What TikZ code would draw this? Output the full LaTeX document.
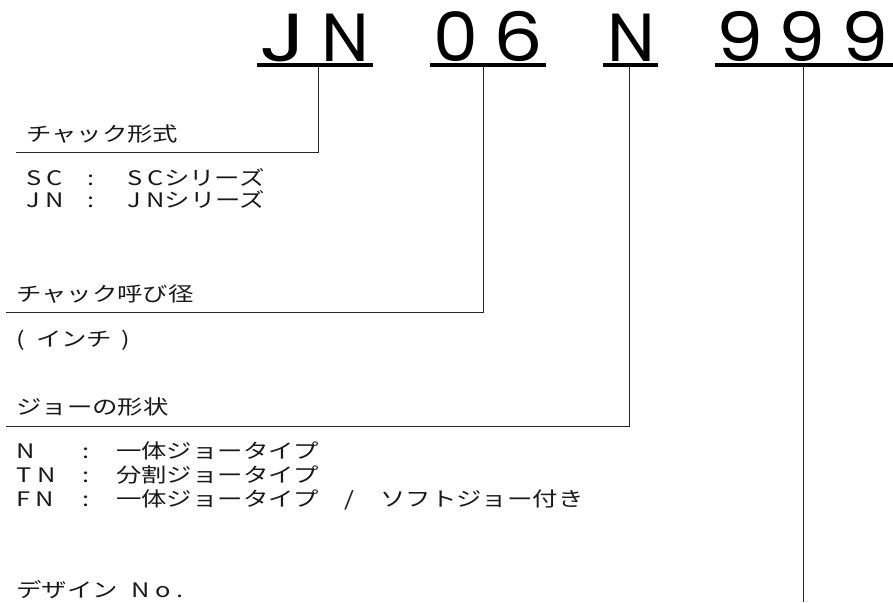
\documentclass[tikz,border=0pt]{standalone}
\usepackage{fontspec}
\usepackage{graphicx}
\newfontfamily\jpfont[FakeStretch=1.27]{Noto Sans CJK JP}
\newfontfamily\latfont[FakeStretch=1.27,LetterSpace=28]{Noto Sans CJK JP}
\newfontfamily\codefont{Poppins}
\newcommand{\cellch}[2]{\makebox[62.5pt]{\scalebox{#1}[1]{#2}}}
\newcommand{\lat}[1]{{\latfont #1}}
\tikzset{
  codetxt/.style={font=\codefont\fontsize{68}{68}\selectfont, inner sep=0pt, anchor=base},
  lbl/.style={font=\jpfont\fontsize{20}{24}\selectfont, inner sep=0pt, anchor=west, text=black!90},
  uline/.style={line width=4pt, line cap=butt},
  conn/.style={line width=1pt, draw=black!85},
}
\begin{document}
\begin{tikzpicture}[x=1pt,y=-1pt]
\useasboundingbox[fill=white] (0,0) rectangle (893,602);

% code groups
\node[codetxt] (jn)  at (314.5,61) {\cellch{1.3}{J}\cellch{1.0}{N}};
\node[codetxt] (dia) at (487.5,61) {\cellch{1.05}{0}\cellch{1.15}{6}};
\node[codetxt] (jaw) at (631.5,61) {\cellch{1.0}{N}};
\node[codetxt] (des) at (802.5,61) {\cellch{1.1}{9}\cellch{1.1}{9}\cellch{1.1}{9}};

% underlines
\draw[uline] (257,64.7) -- (373,64.7);
\draw[uline] (430,64.7) -- (546,64.7);
\draw[uline] (603,64.7) -- (658,64.7);
\draw[uline] (715,64.7) -- (893,64.7);

% connector coordinates
\coordinate (jnTop)  at (318,66.5);
\coordinate (jnEnd)  at (16,152);
\coordinate (diaTop) at (483,66.5);
\coordinate (diaEnd) at (6,312);
\coordinate (jawTop) at (629,66.5);
\coordinate (jawEnd) at (6,426);
\coordinate (desTop) at (803,66.5);
\coordinate (desEnd) at (803,602);

\draw[conn] (jnTop) |- (jnEnd);
\draw[conn] (diaTop) |- (diaEnd);
\draw[conn] (jawTop) |- (jawEnd);
\draw[conn] (desTop) -- (desEnd);

% labels
\node[lbl] (t1) at (26,134) {チャック形式};
\node[lbl] (t1a) at (26,177) {\makebox[61pt][l]{\lat{SC}}\makebox[40pt][l]{:}\lat{SC}シリーズ};
\node[lbl] (t1b) at (26,199) {\makebox[61pt][l]{\lat{JN}}\makebox[40pt][l]{:}\lat{JN}シリーズ};

\node[lbl] (t2) at (16,294) {チャック呼び径};
\node[lbl] (t2a) at (16,340) {\makebox[20pt][l]{(}インチ\hspace{9pt})};

\node[lbl] (t3) at (16,407) {ジョーの形状};
\node[lbl] (t3a) at (16,451) {\makebox[66pt][l]{\lat{N}}\makebox[34pt][l]{:}一体ジョータイプ};
\node[lbl] (t3b) at (16,475) {\makebox[66pt][l]{\lat{TN}}\makebox[34pt][l]{:}分割ジョータイプ};
\node[lbl] (t3c) at (16,500) {\makebox[66pt][l]{\lat{FN}}\makebox[34pt][l]{:}一体ジョータイプ\makebox[61pt]{/}ソフトジョー付き};

\node[lbl] (t4) at (16,590) {デザイン\hspace{14pt}\lat{No.}};
\end{tikzpicture}
\end{document}
